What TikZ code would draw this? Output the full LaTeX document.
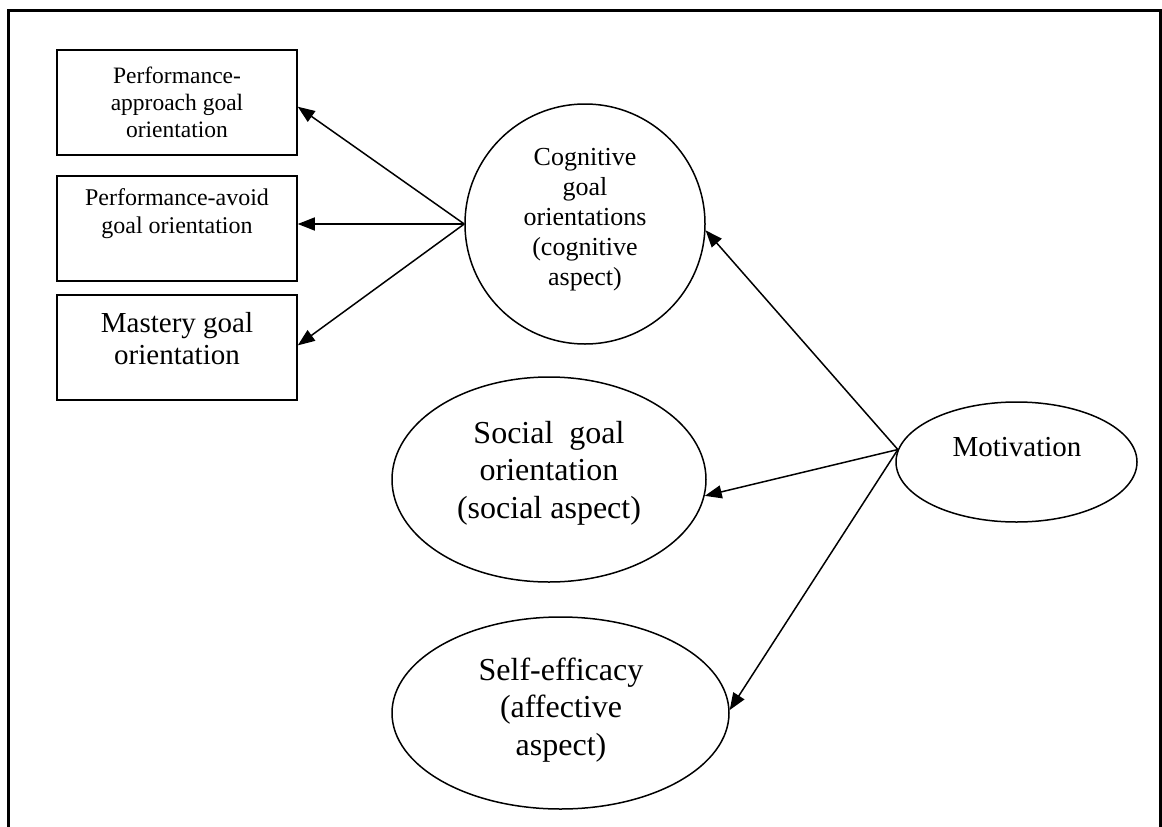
\documentclass[tikz,border=0pt]{standalone}
\usepackage{fontspec}
\setmainfont{Liberation Serif}
\usetikzlibrary{shapes.geometric,arrows.meta}
\begin{document}
\begin{tikzpicture}[x=1pt,y=-1pt,
  line width=1.5pt,
  gbox/.style={draw, rectangle, minimum width=240pt, minimum height=105pt, inner sep=0pt},
  oval/.style={draw, ellipse, inner sep=0pt},
  lbl/.style={align=center, inner sep=0pt},
  link/.style={-{Triangle[length=17pt,width=13pt]}, line width=1.5pt}
]
\useasboundingbox (0,0) rectangle (1162,827);
% open frame (no bottom edge)
\draw[line width=2.7pt] (8.7,827) -- (8.7,10.3) -- (1160.5,10.3) -- (1160.5,827);

% goal orientation boxes
\node[gbox] (pa) at (177,102.5) {};
\node[lbl, font=\fontsize{23.5}{27}\selectfont] (pa-t) at (177,102.5) {Performance-\\approach goal\\orientation};
\node[gbox] (pv) at (177,228.5) {};
\node[lbl, font=\fontsize{24}{28}\selectfont] (pv-t) at (177,214) {Performance-avoid\\goal orientation};
\node[gbox] (pm) at (177,347.5) {};
\node[lbl, font=\fontsize{29}{32}\selectfont] (pm-t) at (177,339) {Mastery goal\\orientation};

% aspects of motivation
\node[oval, minimum width=240pt, minimum height=240pt] (cog) at (585,224) {};
\node[lbl, font=\fontsize{26}{30}\selectfont] (cog-t) at (585,220) {Cognitive\\goal\\orientations\\(cognitive\\aspect)};
\node[oval, minimum width=314pt, minimum height=205pt] (soc) at (549,479.5) {};
\node[lbl, font=\fontsize{32}{37.5}\selectfont] (soc-t) at (549,473) {Social~~goal\\orientation\\(social aspect)};
\node[oval, minimum width=241pt, minimum height=120pt] (mot) at (1016.5,462) {};
\node[lbl, font=\fontsize{29}{32}\selectfont] (mot-t) at (1017,447) {Motivation};
\node[oval, minimum width=337pt, minimum height=192pt] (se) at (560.5,713) {};
\node[lbl, font=\fontsize{32}{37.5}\selectfont] (se-t) at (561,710) {Self-efficacy\\(affective\\aspect)};

% connectors
\draw[link] (cog.west) -- (pa.-2.6);
\draw[link] (cog.west) -- (cog.west -| pv.east);
\draw[link] (cog.west) -- (pm.1.2);
\draw[link] (mot.174) -- (cog.-3);
\draw[link] (mot.174) -- (soc.-6.3);
\draw[link] (mot.174) -- (se.1);
\end{tikzpicture}
\end{document}
